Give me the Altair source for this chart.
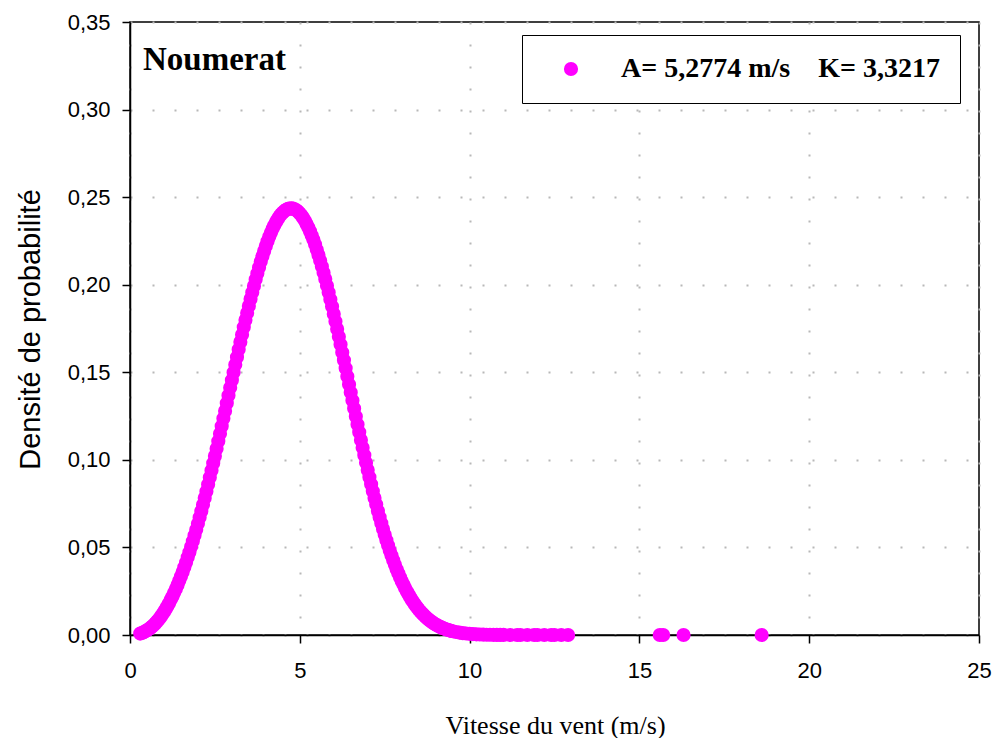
import altair as alt
import numpy as np
import pandas as pd

# Weibull fit for the Noumerat station
SITE = "Noumerat"
A_SCALE = 5.2774   # m/s
K_SHAPE = 3.3217
LEGEND_LABEL = "A= 5,2774 m/s\u00a0\u00a0\u00a0 K= 3,3217"

# Observed wind speeds (m/s)
speeds = [
    0.30, 0.35, 0.40, 0.45, 0.50, 0.55, 0.60, 0.65, 0.70, 0.75,
    0.80, 0.85, 0.90, 0.95, 1.00, 1.05, 1.10, 1.15, 1.20, 1.25,
    1.30, 1.35, 1.40, 1.45, 1.50, 1.55, 1.60, 1.65, 1.70, 1.75,
    1.80, 1.85, 1.90, 1.95, 2.00, 2.05, 2.10, 2.15, 2.20, 2.25,
    2.30, 2.35, 2.40, 2.45, 2.50, 2.55, 2.60, 2.65, 2.70, 2.75,
    2.80, 2.85, 2.90, 2.95, 3.00, 3.05, 3.10, 3.15, 3.20, 3.25,
    3.30, 3.35, 3.40, 3.45, 3.50, 3.55, 3.60, 3.65, 3.70, 3.75,
    3.80, 3.85, 3.90, 3.95, 4.00, 4.05, 4.10, 4.15, 4.20, 4.25,
    4.30, 4.35, 4.40, 4.45, 4.50, 4.55, 4.60, 4.65, 4.70, 4.75,
    4.80, 4.85, 4.90, 4.95, 5.00, 5.05, 5.10, 5.15, 5.20, 5.25,
    5.30, 5.35, 5.40, 5.45, 5.50, 5.55, 5.60, 5.65, 5.70, 5.75,
    5.80, 5.85, 5.90, 5.95, 6.00, 6.05, 6.10, 6.15, 6.20, 6.25,
    6.30, 6.35, 6.40, 6.45, 6.50, 6.55, 6.60, 6.65, 6.70, 6.75,
    6.80, 6.85, 6.90, 6.95, 7.00, 7.05, 7.10, 7.15, 7.20, 7.25,
    7.30, 7.35, 7.40, 7.45, 7.50, 7.55, 7.60, 7.65, 7.70, 7.75,
    7.80, 7.85, 7.90, 7.95, 8.00, 8.05, 8.10, 8.15, 8.20, 8.25,
    8.30, 8.35, 8.40, 8.45, 8.50, 8.55, 8.60, 8.65, 8.70, 8.75,
    8.80, 8.85, 8.90, 8.95, 9.00, 9.05, 9.10, 9.15, 9.20, 9.25,
    9.30, 9.35, 9.40, 9.45, 9.50, 9.60, 9.70, 9.80, 9.90, 10.00,
    10.10, 10.20, 10.30, 10.40, 10.50, 10.60, 10.70, 10.80, 10.90, 11.00,
    11.20, 11.40, 11.50, 11.70, 11.90, 12.00, 12.20, 12.40, 12.50, 12.70,
    12.90, 15.60, 15.70, 16.30, 18.60,
]

x_ticks = [0, 5, 10, 15, 20, 25]
y_ticks = [0.00, 0.05, 0.10, 0.15, 0.20, 0.25, 0.30, 0.35]

# Weibull probability density at each observed speed
v = np.array(speeds)
density = (K_SHAPE / A_SCALE) * (v / A_SCALE) ** (K_SHAPE - 1) * np.exp(-(v / A_SCALE) ** K_SHAPE)

df = pd.DataFrame({"vitesse": speeds, "densite": density, "serie": LEGEND_LABEL})

points = alt.Chart(df).mark_circle(size=200, opacity=1).encode(
    x=alt.X(
        "vitesse:Q",
        scale=alt.Scale(domain=[0, 25], nice=False, zero=False),
        axis=alt.Axis(
            values=x_ticks,
            title="Vitesse du vent (m/s)",
            titleFont="Liberation Serif",
            titleFontSize=26,
            titleFontWeight="normal",
            titleBaseline="alphabetic",
            titleX=425,
            titleY=98,
            labelPadding=17,
            labelFlush=False,
        ),
    ),
    y=alt.Y(
        "densite:Q",
        scale=alt.Scale(domain=[0, 0.35], nice=False),
        axis=alt.Axis(
            values=y_ticks,
            labelExpr="replace(format(datum.value, '.2f'), '.', ',')",
            title="Densité de probabilité",
            titleFont="Liberation Sans",
            titleFontSize=29,
            titleFontWeight="normal",
            titleAngle=-90,
            titleBaseline="alphabetic",
            titleAlign="center",
            titleX=-91,
            titleY=307,
            labelPadding=12,
            labelFlush=False,
        ),
    ),
    color=alt.Color(
        "serie:N",
        scale=alt.Scale(range=["#ff00ff"]),
        legend=alt.Legend(
            title=None,
            orient="none",
            legendX=392,
            legendY=13,
            padding=20,
            strokeColor="black",
            fillColor="white",
            symbolType="circle",
            symbolSize=200,
            symbolOffset=15,
            labelOffset=36,
            labelFont="Liberation Serif",
            labelFontSize=28,
            labelFontWeight="bold",
            labelColor="black",
            labelLimit=600,
        ),
    ),
)

site_label = alt.Chart(pd.DataFrame({"t": [SITE]})).mark_text(
    font="Liberation Serif",
    fontSize=33,
    fontWeight="bold",
    align="left",
    baseline="alphabetic",
    color="black",
).encode(text="t:N", x=alt.value(13), y=alt.value(48))

chart = (
    alt.layer(points, site_label)
    .properties(
        width=849,
        height=613,
        autosize=alt.AutoSizeParams(type="none"),
        padding={"left": 130, "top": 22, "right": 17, "bottom": 103},
        background="white",
    )
    .configure_view(stroke="black", strokeWidth=1.5)
    .configure_axis(
        domainColor="black",
        domainWidth=1.5,
        tickColor="black",
        tickWidth=1.5,
        tickSize=8,
        labelFont="Liberation Sans",
        labelFontSize=22,
        labelColor="black",
        titleColor="black",
        grid=True,
        gridColor="#b8b8b8",
        gridDash=[2, 20],
        gridWidth=2,
    )
)

chart.save("out.html", embed_options={"renderer": "svg", "actions": False})
